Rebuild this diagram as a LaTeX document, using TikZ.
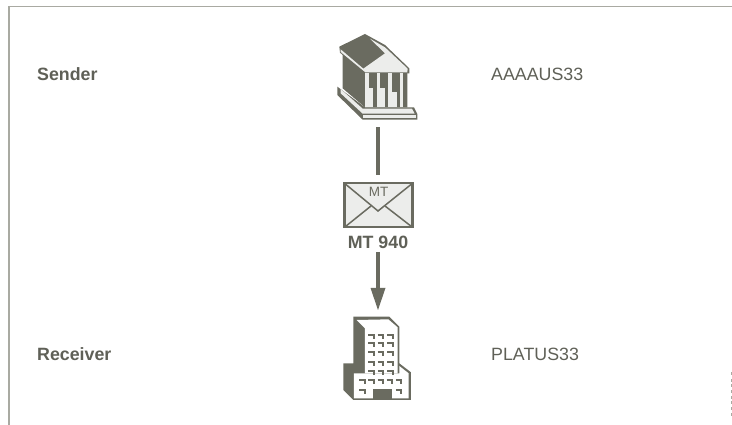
\documentclass[tikz,border=0pt]{standalone}
\usepackage{fontspec}
\setmainfont{Liberation Sans}
\definecolor{ink}{HTML}{6A6B60}
\definecolor{pale}{HTML}{ECEDEB}
\definecolor{rule}{HTML}{A9AAA2}
\definecolor{txt}{HTML}{5F6057}
\tikzset{
 rolelabel/.style={font=\fontsize{17.8}{20}\selectfont\bfseries,text=txt,anchor=west,inner sep=0pt},
 codelabel/.style={font=\fontsize{17.8}{20}\selectfont,text=txt,anchor=west,inner sep=0pt},
 conn/.style={draw=ink,line width=4pt},
 iconbox/.style={inner sep=0pt,outer sep=0pt,minimum width=#1}
}
\begin{document}
\begin{tikzpicture}[x=1pt,y=-1pt]
\useasboundingbox (0,0) rectangle (732,425);
\draw[rule,line width=1pt] (8,6.5) -- (732,6.5);
\draw[rule,line width=2pt] (9,6) -- (9,425);
\foreach \yy in {373.5,380,385.5,391,397,402.5,408,414}
  \fill[rule] (730.5,\yy-1.5) rectangle (732,\yy+1.5);
% bank
\begin{scope}[shift={(320,20)},x=0.3333pt,y=-0.3333pt]
\fill[ink] (68,95) -- (68,205) -- (135,262) -- (262,262) -- (262,150) -- (135,150) -- cycle;
\fill[ink] (52,200) -- (135,262) -- (282,262) -- (292,282) -- (292,299) -- (128,299) -- (52,225) -- cycle;
\fill[pale] (62,207) -- (128,266) -- (276,266) -- (284,281) -- (128,281) -- (62,220) -- cycle;
\fill[pale] (130,285) -- (288,285) -- (288,295) -- (130,295) -- cycle;
\fill[ink] (58,80) -- (135,42) -- (195,75) -- (268,145) -- (268,160) -- (133,160) -- (60,98) -- cycle;
\fill[pale] (62,88) -- (130,146) -- (195,100) -- (150,56) -- (195,82) -- (263,146) -- (262,157) -- (136,157) -- (62,96) -- cycle;
\fill[pale] (135,160) rectangle (148,262);
\fill[pale] (148,205) rectangle (160,262);
\fill[pale] (170,160) rectangle (181,262);
\fill[pale] (181,205) rectangle (196,262);
\fill[pale] (205,160) rectangle (216,262);
\fill[pale] (216,215) rectangle (231,262);
\fill[pale] (240,160) rectangle (250,262);
\end{scope}
\node[iconbox=2pt] (bank) at (378,127) {};
% envelope
\node[draw=ink,fill=pale,line width=2.2pt,minimum width=68pt,minimum height=44pt,inner sep=0pt,outer sep=0pt] (mail) at (378.5,205.3) {};
\draw[ink,line width=1.5pt] (mail.north west) -- (378,211) -- (mail.north east);
\draw[ink,line width=1.5pt] (mail.south west) -- (371,206);
\draw[ink,line width=1.5pt] (mail.south east) -- (385,206);
\node[font=\fontsize{13.5}{15}\selectfont,text=ink,inner sep=0pt] (mtsmall) at (378.5,191.5) {MT};
\node[font=\fontsize{17.8}{20}\selectfont\bfseries,text=txt,inner sep=0pt] (mt) at (378,242) {MT 940};
% building
\begin{scope}[shift={(330,310)},x=0.3333pt,y=-0.3333pt]
\fill[ink] (70,20) -- (178,20) -- (208,50) -- (208,160) -- (243,187) -- (243,270) -- (70,270) -- (40,240) -- (40,160) -- (70,160) -- cycle;
\fill[white] (80,30) -- (175,28) -- (203,52) -- (203,190) -- (105,190) -- (105,55) -- cycle;
\fill[white] (72,190) -- (208,190) -- (208,168) -- (236,190) -- (236,265) -- (72,265) -- cycle;
\fill[ink] (130,238) rectangle (185,270);
\foreach \cx/\cy in {115/74,143/74,172/74,115/99,143/99,172/99,115/127,143/127,172/127,115/155,143/155,172/155,115/182,143/182,172/182,88/210,115/210,143/210,170/210,198/210,88/240,198/240}
  \draw[ink,line width=2pt] (\cx,\cy) -- (\cx+16,\cy) -- (\cx+16,\cy+12);
\end{scope}
\node[iconbox=2pt] (office) at (378,318) {};
% connectors
\coordinate (mailtop) at (378,175);
\draw[conn] (bank) -- (mailtop);
\coordinate (shaftstart) at (378,252);
\coordinate (headbase) at (378,290);
\draw[conn] (shaftstart) -- (headbase);
\fill[ink] (370.5,288) -- (385.5,288) -- (378,310) -- cycle;
% labels
\node[rolelabel] (lsender) at (37,74.5) {Sender};
\node[rolelabel] (lreceiver) at (37,354.5) {Receiver};
\node[codelabel] (csender) at (491,74.5) {AAAAUS33};
\node[codelabel] (creceiver) at (491,354.5) {PLATUS33};
\end{tikzpicture}
\end{document}
